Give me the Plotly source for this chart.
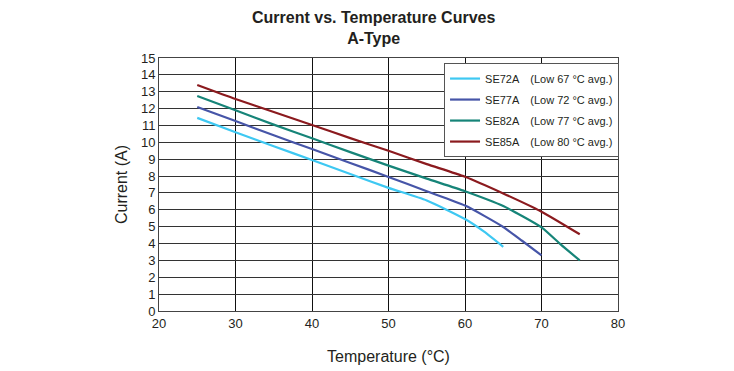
import plotly.graph_objects as go

temps_72 = [25, 30, 35, 40, 45, 50, 55, 60, 62.5, 65]
cur_72 = [11.45, 10.6, 9.77, 8.95, 8.12, 7.3, 6.55, 5.45, 4.7, 3.8]
temps_77 = [25, 30, 35, 40, 45, 50, 55, 60, 65, 67.5, 70]
cur_77 = [12.1, 11.26, 10.42, 9.6, 8.78, 7.95, 7.1, 6.25, 4.98, 4.15, 3.3]
temps_82 = [25, 30, 35, 40, 45, 50, 55, 60, 65, 70, 72.5, 75]
cur_82 = [12.75, 11.9, 11.05, 10.24, 9.42, 8.62, 7.85, 7.1, 6.22, 4.96, 3.95, 3.0]
temps_85 = [25, 30, 35, 40, 45, 50, 55, 60, 65, 70, 75]
cur_85 = [13.4, 12.57, 11.8, 11.03, 10.25, 9.5, 8.71, 7.96, 6.97, 5.89, 4.55]

names = ["SE72A", "SE77A", "SE82A", "SE85A"]
notes = ["(Low 67 °C avg.)", "(Low 72 °C avg.)", "(Low 77 °C avg.)", "(Low 80 °C avg.)"]
colors = ["#3EC8F2", "#4655A8", "#168478", "#8B1A1E"]

font_family = "Liberation Sans, Arial, sans-serif"

fig = go.Figure()
for xs, ys, n, note, c in zip([temps_72, temps_77, temps_82, temps_85],
                              [cur_72, cur_77, cur_82, cur_85], names, notes, colors):
    fig.add_trace(go.Scatter(
        x=xs, y=ys, mode="lines", legendgroup=n,
        line=dict(color=c, width=2.2, shape="spline", smoothing=0.6),
        name=f"{n}\u2002\u2002{note}"))

fig.add_annotation(text="<b>Current vs. Temperature Curves<br>A-Type</b>",
                   xref="paper", yref="paper", x=0.468, y=1.0, yshift=51,
                   xanchor="center", yanchor="top", showarrow=False,
                   font=dict(size=16, family=font_family, color="#231F20"))

fig.update_layout(
    width=734, height=371,
    margin=dict(l=151, r=124, t=50, b=68),
    paper_bgcolor="white", plot_bgcolor="white",
    font=dict(family=font_family, color="#231F20", size=13),
    showlegend=True,
    legend=dict(x=0.621, y=0.98, xanchor="left", yanchor="top",
                bgcolor="white", bordercolor="#555555", borderwidth=1,
                font=dict(size=11, family=font_family),
                tracegroupgap=2, itemwidth=30),
    xaxis=dict(range=[20, 80], dtick=10, tick0=20, showgrid=True, gridcolor="#111111", gridwidth=1,
               showline=True, linecolor="#444444", mirror=True, zeroline=False, automargin=False,
               ticks="", tickfont=dict(size=13),
               title=dict(text="Temperature (°C)", font=dict(size=16), standoff=21)),
    yaxis=dict(range=[0, 15], dtick=1, tick0=0, showgrid=True, gridcolor="#333333", gridwidth=1,
               showline=True, linecolor="#444444", mirror=True, zeroline=False, automargin=False,
               ticks="", tickfont=dict(size=13),
               title=dict(text="Current (A)", font=dict(size=16), standoff=9)),
)

fig.write_html("out.html")
